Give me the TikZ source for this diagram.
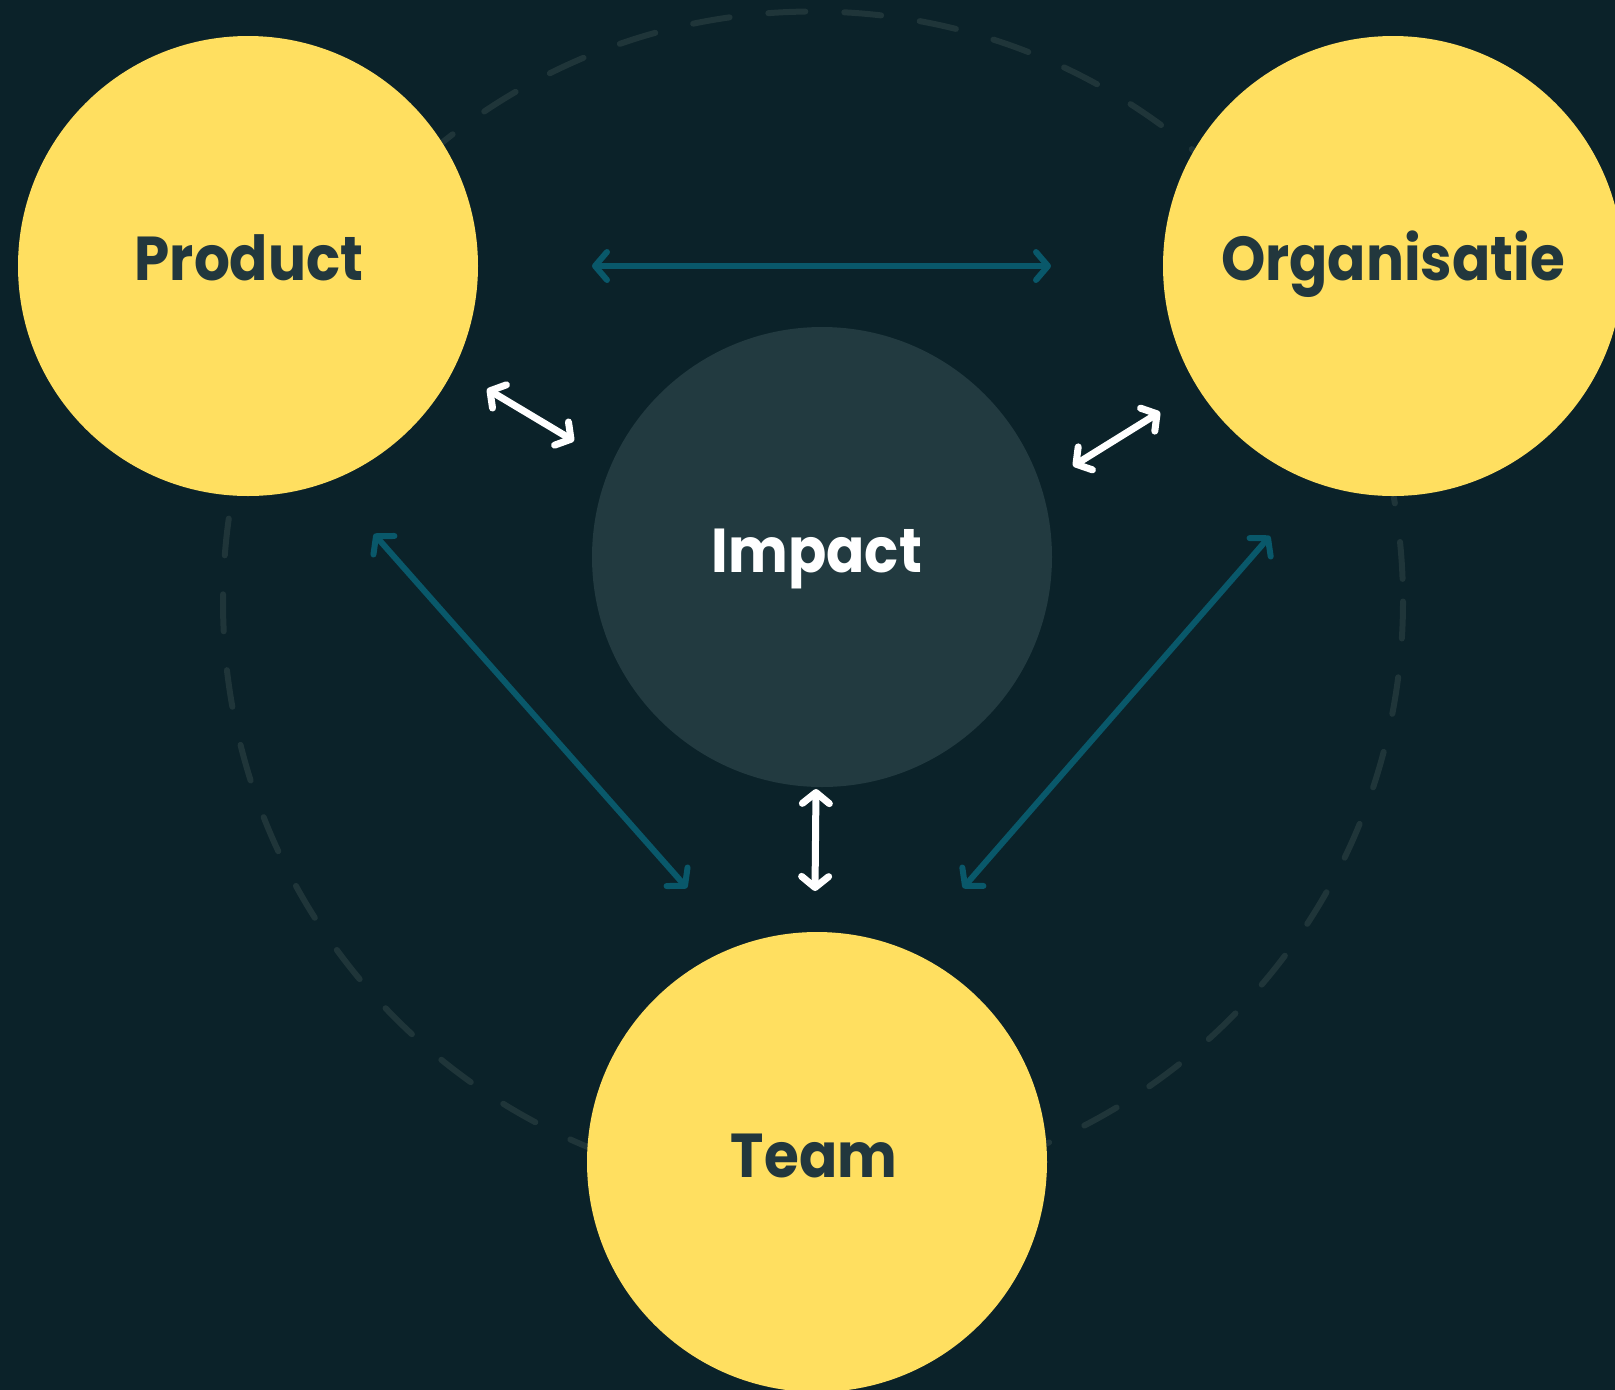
\documentclass[tikz,border=0pt]{standalone}
\usepackage{graphicx}
\usepackage{fontspec}
\setmainfont{Poppins}
\usetikzlibrary{arrows.meta,calc}
\definecolor{bgc}{HTML}{0B2229}
\definecolor{yel}{HTML}{FFDF60}
\definecolor{ink}{HTML}{22373D}
\definecolor{imp}{HTML}{223A40}
\definecolor{tealc}{HTML}{09586A}
\definecolor{dashc}{HTML}{1F3539}
\newcommand{\narrowtxt}[1]{\scalebox{0.91}[1]{#1}}
\tikzset{
  ycirc/.style={circle, fill=yel, minimum size=460pt, inner sep=0pt},
  icirc/.style={circle, fill=imp, minimum size=460pt, inner sep=0pt},
  lbl/.style={font=\bfseries\fontsize{62}{62}\selectfont, text=ink, inner sep=0pt, anchor=base},
  tealarrow/.style={draw=tealc, line width=6pt, line cap=round,
    {Straight Barb[length=12pt,width=28pt,round]}-{Straight Barb[length=12pt,width=28pt,round]}},
  whitearrow/.style={draw=white, line width=7pt, line cap=round,
    {Straight Barb[length=11pt,width=27pt,round]}-{Straight Barb[length=11pt,width=27pt,round]}},
  dashring/.style={draw=dashc, line width=6pt, line cap=round, dash pattern=on 37pt off 39pt}
}
\begin{document}
\begin{tikzpicture}[x=1pt,y=-1pt]
\fill[bgc] (0,0) rectangle (1615,1390);
\useasboundingbox (0,0) rectangle (1615,1390);
\clip (0,0) rectangle (1615,1390);
\draw[dashring] (813,601.5) circle[radius=590];
\node[ycirc] (P) at (248,266) {};
\node[icirc] (I) at (822,557) {};
\node[ycirc] (O) at (1393,266) {};
\node[ycirc] (T) at (817,1162) {};
\node[lbl] (Pt) at (249,280) {\narrowtxt{Product}};
\node[lbl] (Ot) at (1393,280) {\narrowtxt{Organisatie}};
\node[lbl, text=white] (It) at (817,572) {\narrowtxt{Impact}};
\node[lbl] (Tt) at (814,1177) {\narrowtxt{Team}};
% endpoints
\coordinate (a1) at ($(P)+(344,0)$);
\coordinate (a2) at ($(O)+(-342,0)$);
\coordinate (b1) at ($(P)+(126,268)$);
\coordinate (b2) at ($(T)+(-130,-274)$);
\coordinate (c1) at ($(O)+(-123,270)$);
\coordinate (c2) at ($(T)+(146,-274)$);
\coordinate (d1) at ($(P)+(239,123)$);
\coordinate (d2) at ($(I)+(-248,-116)$);
\coordinate (e1) at ($(I)+(251,-91)$);
\coordinate (e2) at ($(O)+(-233,146)$);
\coordinate (f1) at ($(I)+(-6,232)$);
\coordinate (f2) at ($(T)+(-2,-271)$);
\draw[tealarrow] (a1) -- (a2);
\draw[tealarrow] (b1) -- (b2);
\draw[tealarrow] (c1) -- (c2);
\draw[whitearrow] (d1) -- (d2);
\draw[whitearrow] (e1) -- (e2);
\draw[whitearrow] (f1) -- (f2);
\end{tikzpicture}
\end{document}
